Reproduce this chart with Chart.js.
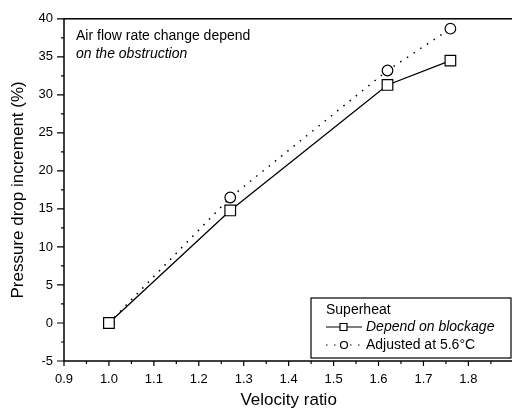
<!DOCTYPE html>
<html>
<head>
<meta charset="utf-8">
<script src="https://cdn.jsdelivr.net/npm/chart.js@4/dist/chart.umd.min.js"></script>
<style>
  html, body { margin: 0; padding: 0; background: #fff; overflow: hidden; }
  #wrap { width: 512px; height: 414px; overflow: hidden; }
</style>
</head>
<body>
<div id="wrap"><canvas id="c" width="522" height="414"></canvas></div>
<script>
// données
const velocityRatio = [1.0, 1.27, 1.62, 1.76];
const dependOnBlockage = [0, 14.8, 31.3, 34.5];
const adjustedAt56 = [0, 16.5, 33.2, 38.7];
const xTicks = [0.9, 1.0, 1.1, 1.2, 1.3, 1.4, 1.5, 1.6, 1.7, 1.8];
const yTicks = [-5, 0, 5, 10, 15, 20, 25, 30, 35, 40];

const FONT = 'Liberation Sans, Arial, sans-serif';

function toPoints(xs, ys) {
    return xs.map((x, i) => ({ x: x, y: ys[i] }));
}

// cadre, graduations, texte et légende
const decor = {
    id: 'decor',
    afterDraw(chart) {
        const ctx = chart.ctx;
        const a = chart.chartArea;
        const xs = chart.scales.x, ys = chart.scales.y;
        ctx.save();
        ctx.strokeStyle = '#000';
        ctx.lineWidth = 1.5;
        ctx.strokeRect(a.left, a.top, a.right - a.left, a.bottom - a.top);

        ctx.lineWidth = 1.2;
        ctx.beginPath();
        yTicks.forEach((v, i) => {
            const y = ys.getPixelForValue(v);
            ctx.moveTo(a.left - 7, y); ctx.lineTo(a.left, y);
            if (i < yTicks.length - 1) {
                const m = ys.getPixelForValue(v + 2.5);
                ctx.moveTo(a.left - 3, m); ctx.lineTo(a.left, m);
            }
        });
        xTicks.forEach(v => {
            const x = xs.getPixelForValue(v);
            ctx.moveTo(x, a.bottom); ctx.lineTo(x, a.bottom + 5);
            const m = xs.getPixelForValue(v + 0.05);
            if (m < a.right) { ctx.moveTo(m, a.bottom); ctx.lineTo(m, a.bottom + 3); }
        });
        ctx.stroke();

        // annotation
        ctx.fillStyle = '#000';
        ctx.textBaseline = 'middle';
        ctx.font = '14px ' + FONT;
        ctx.fillText('Air flow rate change depend', a.left + 12, 36);
        ctx.font = 'italic 14px ' + FONT;
        ctx.fillText('on the obstruction', a.left + 12, 54);

        // légende
        const lx = 311, ly = 298, lw = 200, lh = 60;
        ctx.fillStyle = '#fff';
        ctx.fillRect(lx, ly, lw, lh);
        ctx.lineWidth = 1.2;
        ctx.strokeRect(lx, ly, lw, lh);
        ctx.fillStyle = '#000';
        ctx.font = '14px ' + FONT;
        ctx.fillText('Superheat', 326, 310);

        chart.data.datasets.forEach((ds, i) => {
            const y = 327 + i * 18;
            ctx.strokeStyle = '#000';
            ctx.lineWidth = 1.2;
            ctx.setLineDash(ds.borderDash || []);
            ctx.beginPath();
            ctx.moveTo(326, y); ctx.lineTo(362, y);
            ctx.stroke();
            ctx.setLineDash([]);
            ctx.fillStyle = '#fff';
            ctx.beginPath();
            if (ds.pointStyle === 'rect') {
                ctx.rect(340, y - 3.5, 7, 7);
            } else {
                ctx.arc(344, y, 3.5, 0, Math.PI * 2);
            }
            ctx.fill();
            ctx.stroke();
            ctx.fillStyle = '#000';
            ctx.font = (i === 0 ? 'italic ' : '') + '14px ' + FONT;
            ctx.fillText(ds.label, 366, y);
        });
        ctx.restore();
    }
};

new Chart(document.getElementById('c'), {
    type: 'scatter',
    data: {
        datasets: [
            {
                label: 'Depend on blockage',
                data: toPoints(velocityRatio, dependOnBlockage),
                showLine: true,
                borderColor: '#000',
                borderWidth: 1.3,
                backgroundColor: '#fff',
                pointStyle: 'rect',
                pointRadius: 7.5,
                pointBorderWidth: 1.2,
                pointBorderColor: '#000',
                pointBackgroundColor: '#fff'
            },
            {
                label: 'Adjusted at 5.6°C',
                data: toPoints(velocityRatio, adjustedAt56),
                showLine: true,
                borderColor: '#000',
                borderWidth: 1.5,
                borderDash: [1.5, 6.5],
                backgroundColor: '#fff',
                pointStyle: 'circle',
                pointRadius: 5.3,
                pointBorderWidth: 1.2,
                pointBorderColor: '#000',
                pointBackgroundColor: '#fff'
            }
        ]
    },
    options: {
        responsive: false,
        animation: false,
        layout: { padding: { top: 15, right: 2, left: 0, bottom: 0 } },
        plugins: { legend: { display: false }, tooltip: { enabled: false } },
        scales: {
            x: {
                type: 'linear',
                min: 0.9,
                max: 1.9,
                afterBuildTicks: s => { s.ticks = xTicks.map(v => ({ value: v })); },
                afterFit: s => { s.height = 53; },
                grid: { display: false, drawTicks: false },
                border: { display: false },
                ticks: {
                    padding: 11,
                    color: '#000',
                    font: { family: FONT, size: 13 },
                    callback: v => v.toFixed(1),
                    maxRotation: 0
                },
                title: {
                    display: true,
                    text: 'Velocity ratio',
                    color: '#000',
                    font: { family: FONT, size: 17 },
                    padding: { top: 0, bottom: 3 }
                }
            },
            y: {
                type: 'linear',
                min: -5,
                max: 40,
                afterBuildTicks: s => { s.ticks = yTicks.map(v => ({ value: v })); },
                afterFit: s => { s.width = 64; },
                grid: { display: false, drawTicks: false },
                border: { display: false },
                ticks: {
                    padding: 11,
                    color: '#000',
                    font: { family: FONT, size: 13 }
                },
                title: {
                    display: true,
                    text: 'Pressure drop increment (%)',
                    color: '#000',
                    font: { family: FONT, size: 17 },
                    padding: { top: 8, bottom: 8 }
                }
            }
        }
    },
    plugins: [decor]
});
</script>
</body>
</html>
